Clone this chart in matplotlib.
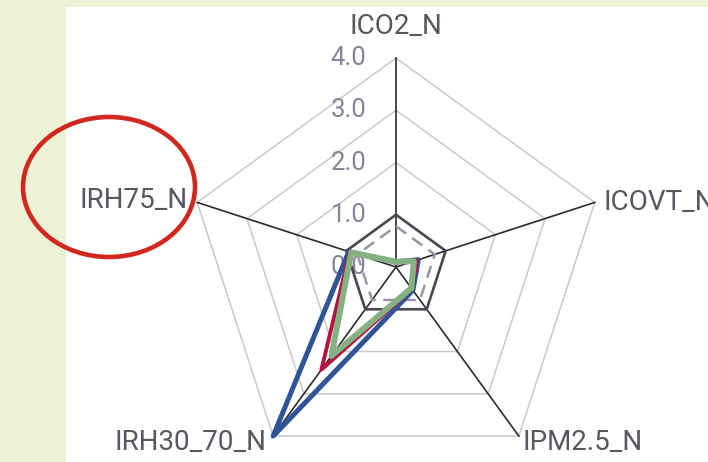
import numpy as np
import matplotlib
matplotlib.use("Agg")
import matplotlib.pyplot as plt
from matplotlib.patches import Ellipse, Rectangle

# axis order goes clockwise from the top
categories = ["ICO2_N", "ICOVT_N", "IPM2.5_N", "IRH30_70_N", "IRH75_N"]
ticks = [0.0, 1.0, 2.0, 3.0, 4.0]

# series values
reference = [1.0, 1.0, 1.0, 1.0, 1.0]
threshold = [0.78, 0.78, 0.78, 0.78, 0.78]
series_blue = [0.10, 0.45, 0.55, 4.00, 0.95]
series_red = [0.10, 0.42, 0.52, 2.43, 0.93]
series_green = [0.10, 0.36, 0.50, 2.10, 0.90]

BG = "#ECF2D5"
GRID = "#C9C9C9"
SPOKE = "#2B2B2B"
LABEL = "#5A5560"
TICK = "#8C8299"

W, H, DPI = 708, 462, 100
CX, CY = 396, 267          # centre of the radar in pixels (from top)
UNIT = 209 / 4.0           # pixels per value unit

fig = plt.figure(figsize=(W / DPI, H / DPI), dpi=DPI, facecolor=BG)
fig.patches.append(Rectangle((66 / W, 0), 1 - 66 / W, (H - 7) / H,
                             transform=fig.transFigure, facecolor="white",
                             edgecolor="none", zorder=-1))

ax = fig.add_axes([0, 0, 1, 1])
ax.set_facecolor("none")
ax.set_xlim(-CX / UNIT, (W - CX) / UNIT)
ax.set_ylim(-(H - CY) / UNIT, CY / UNIT)
ax.axis("off")

angles = np.pi / 2 - 2 * np.pi * np.arange(len(categories)) / len(categories)


def to_xy(values):
    r = np.asarray(values, dtype=float)
    x = r * np.cos(angles)
    y = r * np.sin(angles)
    return np.append(x, x[0]), np.append(y, y[0])


# pentagon grid
for t in ticks[1:]:
    gx, gy = to_xy([t] * len(categories))
    ax.plot(gx, gy, color=GRID, lw=1.1, zorder=1)

# spokes
for a in angles:
    ax.plot([0, ticks[-1] * np.cos(a)], [0, ticks[-1] * np.sin(a)],
            color=SPOKE, lw=1.2, zorder=2)

# radial tick labels along the top axis
for t in ticks:
    ax.text(-0.57, t, f"{t:.1f}", ha="right", va="center", fontsize=18.5,
            color=TICK, family="Roboto", zorder=3)

x, y = to_xy(threshold)
ax.plot(x, y, color="#9C93A7", lw=1.8, ls=(0, (5, 3)), zorder=4)
x, y = to_xy(reference)
ax.plot(x, y, color="#4B4751", lw=1.9, zorder=4, solid_joinstyle="miter")
x, y = to_xy(series_blue)
ax.plot(x, y, color="#2F5597", lw=3.6, zorder=5)
x, y = to_xy(series_red)
ax.plot(x, y, color="#B4123F", lw=2.8, zorder=6)
x, y = to_xy(series_green)
ax.plot(x, y, color="#84B283", lw=4.3, zorder=7)

# category labels
R = ticks[-1]
label_pos = [
    (0, R + 0.60, "center", "center"),
    (R * np.cos(angles[1]) + 0.17, R * np.sin(angles[1]), "left", "center"),
    (R * np.cos(angles[2]) + 0.07, R * np.sin(angles[2]) - 0.13, "left", "center"),
    (R * np.cos(angles[3]) - 0.12, R * np.sin(angles[3]) - 0.13, "right", "center"),
    (R * np.cos(angles[4]) - 0.19, R * np.sin(angles[4]) + 0.04, "right", "center"),
]
for name, (lx, ly, ha, va) in zip(categories, label_pos):
    ax.text(lx, ly, name, ha=ha, va=va, fontsize=20, color=LABEL,
            family="Roboto", zorder=8)

# red highlight around IRH75_N
ax.add_patch(Ellipse(((109 - CX) / UNIT, (CY - 187) / UNIT), 172 / UNIT, 140 / UNIT,
                     fill=False, edgecolor="#D0281E", lw=3.3, zorder=9,
                     clip_on=False))

fig.savefig("out.png", dpi=DPI, facecolor=BG)
